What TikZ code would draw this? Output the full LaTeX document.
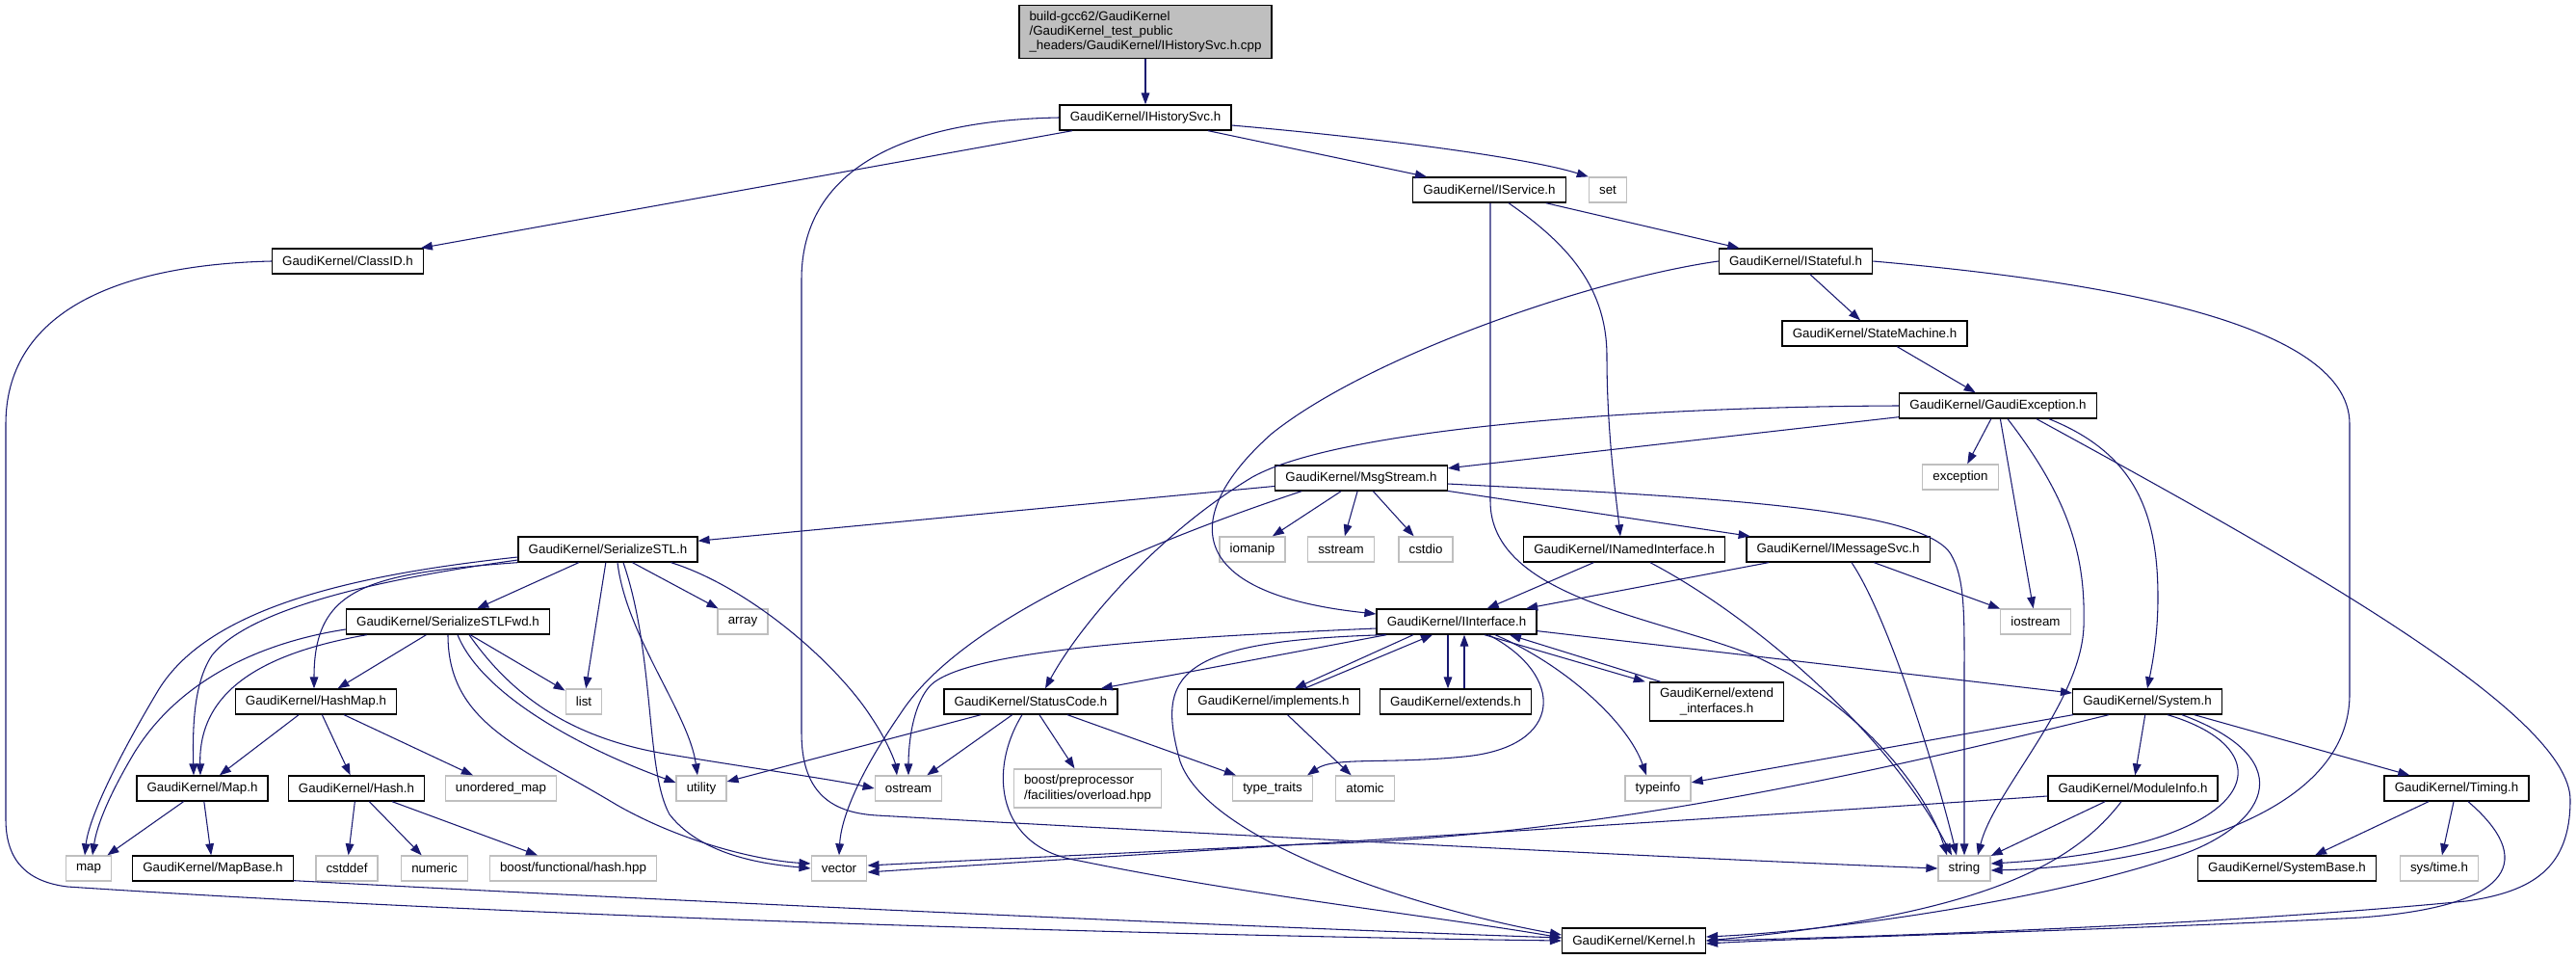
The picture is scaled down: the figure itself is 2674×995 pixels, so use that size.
\documentclass[tikz,border=0pt]{standalone}
\usepackage{fontspec}
\setmainfont{Liberation Sans}
\usetikzlibrary{arrows.meta,calc}
\definecolor{edgeblue}{HTML}{191970}
\definecolor{boxgrey}{HTML}{BFBFBF}
\tikzset{
    file-box/.style = {draw=black, fill=white, line width=1pt, rectangle, inner xsep=8pt, inner ysep=2pt, minimum height=19.5pt, font=\fontsize{10}{11.5}\selectfont},
    sys-box/.style = {file-box, draw=boxgrey},
    root-box/.style = {file-box, fill=boxgrey, align=left, minimum height=41.25pt},
    two-line/.style = {minimum height=30pt},
    dep-edge/.style = {draw=edgeblue, line width=0.8pt, -{Triangle[length=9pt,width=6.5pt]}},
}

\begin{document}
\begin{tikzpicture}[x=0.75pt,y=-0.75pt]
\useasboundingbox (0,0) rectangle (2674,995);

\node[root-box] (root) at (1189,33) {build-gcc62/GaudiKernel\\/GaudiKernel\_test\_public\\\_headers/GaudiKernel/IHistorySvc.h.cpp};
\node[file-box] (ihist) at (1189,122) {GaudiKernel/IHistorySvc.h};
\node[file-box] (classid) at (361,271) {GaudiKernel/ClassID.h};
\node[file-box] (iservice) at (1546,197) {GaudiKernel/IService.h};
\node[sys-box] (set) at (1669,197) {set};
\node[file-box] (istateful) at (1864,271) {GaudiKernel/IStateful.h};
\node[file-box] (statemachine) at (1946,346) {GaudiKernel/StateMachine.h};
\node[file-box] (gexc) at (2074,421) {GaudiKernel/GaudiException.h};
\node[sys-box] (exception) at (2035,495) {exception};
\node[file-box] (msgstream) at (1413,496) {GaudiKernel/MsgStream.h};
\node[sys-box] (iomanip) at (1300,570) {iomanip};
\node[sys-box] (sstream) at (1392,570) {sstream};
\node[sys-box] (cstdio) at (1480,570) {cstdio};
\node[file-box] (inamed) at (1686,570) {GaudiKernel/INamedInterface.h};
\node[file-box] (imsgsvc) at (1908,570) {GaudiKernel/IMessageSvc.h};
\node[sys-box] (iostream) at (2113,645) {iostream};
\node[file-box] (sstl) at (631,570) {GaudiKernel/SerializeSTL.h};
\node[file-box] (sstlfwd) at (465,645) {GaudiKernel/SerializeSTLFwd.h};
\node[sys-box] (array) at (771,645) {array};
\node[file-box] (iface) at (1512,645) {GaudiKernel/IInterface.h};
\node[file-box] (hashmap) at (328,728) {GaudiKernel/HashMap.h};
\node[sys-box] (list) at (606,728) {list};
\node[file-box] (statuscode) at (1070,728) {GaudiKernel/StatusCode.h};
\node[file-box] (implements) at (1322,728) {GaudiKernel/implements.h};
\node[file-box] (extends) at (1511,728) {GaudiKernel/extends.h};
\node[file-box, two-line, align=center] (extintf) at (1782,728) {GaudiKernel/extend\\\_interfaces.h};
\node[file-box] (system) at (2229,728) {GaudiKernel/System.h};
\node[file-box] (mapH) at (210,818) {GaudiKernel/Map.h};
\node[file-box] (hashH) at (370,818) {GaudiKernel/Hash.h};
\node[sys-box] (umap) at (520,818) {unordered\_map};
\node[sys-box] (utility) at (728,818) {utility};
\node[sys-box] (ostream) at (943,818) {ostream};
\node[sys-box, two-line, align=left] (boostpp) at (1129,818) {boost/preprocessor\\/facilities/overload.hpp};
\node[sys-box] (typetraits) at (1321,818) {type\_traits};
\node[sys-box] (atomic) at (1417,818) {atomic};
\node[sys-box] (typeinfo) at (1721,818) {typeinfo};
\node[file-box] (moduleinfo) at (2214,818) {GaudiKernel/ModuleInfo.h};
\node[file-box] (timing) at (2550,818) {GaudiKernel/Timing.h};
\node[sys-box] (map) at (92,901) {map};
\node[file-box] (mapbase) at (221,901) {GaudiKernel/MapBase.h};
\node[sys-box] (cstddef) at (360,901) {cstddef};
\node[sys-box] (numeric) at (451,901) {numeric};
\node[sys-box] (boosthash) at (595,901) {boost/functional/hash.hpp};
\node[sys-box] (vector) at (871,901) {vector};
\node[sys-box] (string) at (2039,901) {string};
\node[file-box] (systembase) at (2374,901) {GaudiKernel/SystemBase.h};
\node[sys-box] (systime) at (2532,901) {sys/time.h};
\node[file-box] (kernel) at (1696,976) {GaudiKernel/Kernel.h};

\draw[dep-edge] (root) -- (ihist);
\draw[dep-edge] (ihist) -- (classid);
\draw[dep-edge] (ihist) -- (iservice);
\draw[dep-edge] ($(ihist.east)+(0,8)$) .. controls (1450,145) and (1590,165) .. (set.north west);
\draw[dep-edge] (ihist.west) .. controls (930,125) and (832,180) .. (832,290) -- (832,760) .. controls (832,820) and (860,843) .. (910,846) .. controls (1300,868) and (1800,893) .. (string.west);
\draw[dep-edge] (classid.west) .. controls (110,275) and (6,330) .. (6,440) -- (6,850) .. controls (6,895) and (30,915) .. (70,920) .. controls (600,955) and (1300,972) .. (kernel.west);

\draw[dep-edge] (iservice) -- (istateful);
\draw[dep-edge] ($(iservice.south)+(20,0)$) .. controls (1630,255) and (1668,300) .. (1668,370) .. controls (1668,450) and (1678,520) .. ($(inamed.north)+(-4,0)$);
\draw[dep-edge] ($(iservice.south)+(1,0)$) -- (1547,520) .. controls (1547,620) and (1720,640) .. (1820,680) .. controls (1930,730) and (2000,820) .. ($(string.north)+(-18,0)$);

\draw[dep-edge] (istateful.west) .. controls (1650,290) and (1420,370) .. (1320,450) .. controls (1230,530) and (1220,615) .. ($(iface.west)+(0,-8)$);
\draw[dep-edge] (istateful) -- (statemachine);
\draw[dep-edge] (istateful.east) .. controls (2160,290) and (2439,330) .. (2439,440) -- (2439,720) .. controls (2439,860) and (2200,900) .. ($(string.east)+(0,2)$);
\draw[dep-edge] (statemachine) -- (gexc);

\draw[dep-edge] (gexc) -- (msgstream);
\draw[dep-edge] (gexc.west) .. controls (1700,422) and (1390,445) .. (1300,495) .. controls (1200,555) and (1120,650) .. ($(statuscode.north)+(15,0)$);
\draw[dep-edge] (gexc) -- (exception);
\draw[dep-edge] (gexc) -- (iostream);
\draw[dep-edge] ($(gexc.south)+(10,0)$) .. controls (2150,520) and (2165,580) .. (2163,650) .. controls (2160,730) and (2070,820) .. ($(string.north)+(14,0)$);
\draw[dep-edge] ($(gexc.south)+(53,0)$) .. controls (2215,470) and (2240,530) .. (2240,620) .. controls (2240,660) and (2234,690) .. (system.north);
\draw[dep-edge] ($(gexc.south)+(40,0)$) .. controls (2380,580) and (2668,740) .. (2668,830) .. controls (2668,900) and (2630,925) .. (2560,935) .. controls (2300,960) and (1950,972) .. (kernel.east);

\draw[dep-edge] (msgstream) -- (sstl);
\draw[dep-edge] (msgstream) -- (iomanip);
\draw[dep-edge] (msgstream) -- (sstream);
\draw[dep-edge] (msgstream) -- (cstdio);
\draw[dep-edge] (msgstream) -- (imsgsvc);
\draw[dep-edge] ($(msgstream.east)+(0,6)$) .. controls (1750,515) and (1995,525) .. (2025,575) .. controls (2040,600) and (2039,640) .. (2039,700) -- (string.north);
\draw[dep-edge] ($(msgstream.south west)+(28,0)$) .. controls (1200,560) and (1000,640) .. (935,740) .. controls (890,805) and (873,850) .. (vector.north);

\draw[dep-edge] (sstl) -- (sstlfwd);
\draw[dep-edge] (sstl) -- (array);
\draw[dep-edge] (sstl) -- (list);
\draw[dep-edge] ($(sstl.south)+(10,0)$) .. controls (650,660) and (715,740) .. ($(utility.north)+(-4,0)$);
\draw[dep-edge] ($(sstl.south)+(16,0)$) .. controls (680,680) and (670,800) .. (695,845) .. controls (730,890) and (800,897) .. (vector.west);
\draw[dep-edge] ($(sstl.south east)+(-28,0)$) .. controls (780,610) and (870,690) .. (905,745) .. controls (925,775) and (930,795) .. ($(ostream.north)+(-12,0)$);
\draw[dep-edge] ($(sstl.west)+(0,8)$) .. controls (350,598) and (215,635) .. (165,715) .. controls (120,790) and (92,850) .. ($(map.north)+(-4,0)$);
\draw[dep-edge] ($(sstl.west)+(0,11)$) .. controls (400,600) and (260,630) .. (220,680) .. controls (200,710) and (200,760) .. ($(mapH.north)+(-9,0)$);
\draw[dep-edge] (sstl.south west) .. controls (380,595) and (326,610) .. ($(hashmap.north)+(-2,0)$);

\draw[dep-edge] ($(sstlfwd.west)+(0,8)$) .. controls (280,665) and (190,700) .. (140,780) .. controls (110,830) and (100,860) .. ($(map.north)+(4,0)$);
\draw[dep-edge] ($(sstlfwd.south west)+(22,0)$) .. controls (270,678) and (206,718) .. ($(mapH.north)+(-2,0)$);
\draw[dep-edge] (sstlfwd) -- (hashmap);
\draw[dep-edge] (sstlfwd) -- (list);
\draw[dep-edge] ($(sstlfwd.south)+(10,0)$) .. controls (500,720) and (600,775) .. ($(utility.west)+(0,-6)$);
\draw[dep-edge] (sstlfwd.south) .. controls (465,750) and (540,775) .. (640,835) .. controls (710,875) and (790,893) .. ($(vector.west)+(0,-5)$);
\draw[dep-edge] ($(sstlfwd.south)+(22,0)$) .. controls (530,720) and (590,765) .. (690,782) .. controls (780,797) and (860,808) .. (ostream.west);

\draw[dep-edge] (hashmap) -- (mapH);
\draw[dep-edge] (hashmap) -- (hashH);
\draw[dep-edge] (hashmap) -- (umap);
\draw[dep-edge] (mapH) -- (map);
\draw[dep-edge] (mapH) -- (mapbase);
\draw[dep-edge] ($(mapbase.south east)+(0,-1)$) .. controls (700,935) and (1300,962) .. ($(kernel.west)+(0,-3)$);
\draw[dep-edge] (hashH) -- (cstddef);
\draw[dep-edge] (hashH) -- (numeric);
\draw[dep-edge] (hashH) -- (boosthash);

\draw[dep-edge] (iface) -- (statuscode);
\draw[dep-edge] ($(iface.west)+(0,7)$) .. controls (1200,662) and (1000,675) .. (965,712) .. controls (945,735) and (943,780) .. (ostream.north);
\draw[dep-edge] ($(iface.south west)+(10,0)$) .. controls (1220,665) and (1200,700) .. (1225,790) .. controls (1255,875) and (1480,945) .. ($(kernel.west)+(0,-6)$);
\draw[dep-edge] ($(iface.south)+(-45,0)$) -- ($(implements.north)+(22,0)$);
\draw[dep-edge] ($(implements.north)+(32,0)$) -- ($(iface.south)+(-25,0)$);
\draw[dep-edge] ($(iface.south)+(-9,0)$) -- ($(extends.north)+(-8,0)$);
\draw[dep-edge] ($(extends.north)+(9,0)$) -- ($(iface.south)+(8,0)$);
\draw[dep-edge] ($(iface.south)+(29,0)$) -- ($(extintf.north west)+(-4,0)$);
\draw[dep-edge] ($(extintf.north west)+(12,0)$) -- ($(iface.south)+(55,0)$);
\draw[dep-edge] ($(iface.south)+(33,0)$) .. controls (1625,700) and (1625,775) .. (1520,785) .. controls (1440,793) and (1385,785) .. ($(typetraits.north east)+(-6,0)$);
\draw[dep-edge] ($(iface.south)+(40,0)$) .. controls (1625,690) and (1690,750) .. ($(typeinfo.north)+(-12,0)$);
\draw[dep-edge] (iface) -- (system);
\draw[dep-edge] (implements) -- (atomic);

\draw[dep-edge] (statuscode) -- (ostream);
\draw[dep-edge] (statuscode) -- (boostpp);
\draw[dep-edge] (statuscode) -- (typetraits);
\draw[dep-edge] (statuscode) -- (utility);
\draw[dep-edge] ($(statuscode.south)+(-9,0)$) .. controls (1025,800) and (1035,880) .. (1120,893) .. controls (1300,930) and (1500,952) .. ($(kernel.west)+(0,-3)$);

\draw[dep-edge] (system) -- (typeinfo);
\draw[dep-edge] (system) -- (moduleinfo);
\draw[dep-edge] (system) -- (timing);
\draw[dep-edge] ($(system.south west)+(38,0)$) .. controls (1950,800) and (1650,870) .. (1350,876) .. controls (1150,886) and (1000,893) .. ($(vector.east)+(0,-3)$);
\draw[dep-edge] ($(system.south)+(21,0)$) .. controls (2380,780) and (2345,880) .. ($(string.east)+(0,-5)$);
\draw[dep-edge] ($(system.south)+(36,0)$) .. controls (2395,790) and (2350,860) .. (2255,890) .. controls (2120,935) and (1900,966) .. ($(kernel.east)+(0,-4)$);

\draw[dep-edge] (moduleinfo) -- (string);
\draw[dep-edge] ($(moduleinfo.south)+(-12,0)$) .. controls (2150,900) and (2050,950) .. (kernel.east);
\draw[dep-edge] ($(moduleinfo.west)+(0,8)$) .. controls (1700,855) and (1200,885) .. ($(vector.east)+(0,4)$);
\draw[dep-edge] (timing) -- (systembase);
\draw[dep-edge] (timing) -- (systime);
\draw[dep-edge] ($(timing.south)+(12,0)$) .. controls (2630,890) and (2615,940) .. (2450,952) .. controls (2200,965) and (1900,972) .. ($(kernel.east)+(0,3)$);

\draw[dep-edge] (imsgsvc) -- (iface);
\draw[dep-edge] (imsgsvc) -- (iostream);
\draw[dep-edge] ($(imsgsvc.south)+(14,0)$) .. controls (1960,640) and (2010,800) .. ($(string.north)+(-8,0)$);
\draw[dep-edge] (inamed) -- (iface);
\draw[dep-edge] ($(inamed.south)+(27,0)$) .. controls (1820,640) and (1960,760) .. ($(string.north)+(-13,0)$);
\end{tikzpicture}
\end{document}
